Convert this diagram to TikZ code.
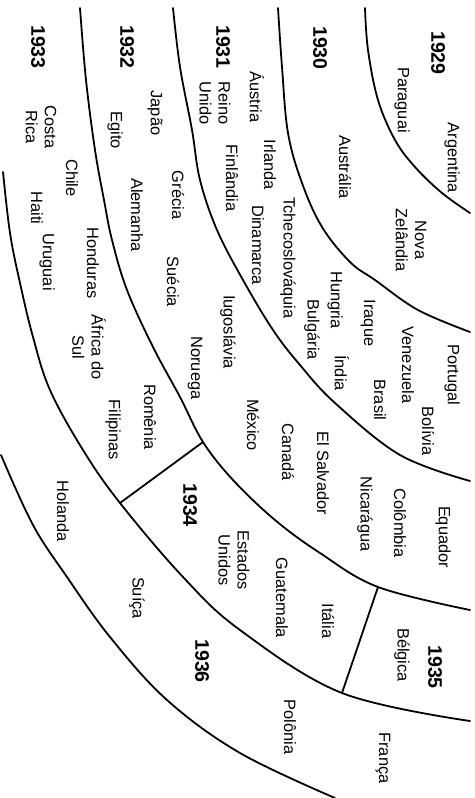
\documentclass[tikz,border=0pt]{standalone}
\usepackage{fontspec}
\setmainfont{Liberation Sans}
\tikzset{
  lbl/.style={rotate=-90, font=\fontsize{8.2}{9.6}\selectfont, align=center, inner sep=0pt},
  yr/.style={rotate=-90, font=\fontsize{9.8}{11}\selectfont\bfseries, inner sep=0pt},
  band/.style={line width=0.9pt, line cap=round}
}
\begin{document}
\begin{tikzpicture}[x=0.5pt,y=-0.5pt]
\useasboundingbox (0,0) rectangle (475,798);
% curves
\draw[band] plot[smooth, tension=0.6] coordinates {(365,8) (368,50) (378,100) (395,140) (415,167) (442,193) (470,213)};
\draw[band] plot[smooth, tension=0.6] coordinates {(278,8) (282,67) (288,133) (302,183) (322,227) (350,262) (375,280) (418,310) (470,332)};
\draw[band] plot[smooth, tension=0.6] coordinates {(173,8) (180,67) (192,130) (200,180) (217,230) (243,280) (273,330) (300,365) (335,403) (400,455) (470,481)};
\draw[band] plot[smooth, tension=0.6] coordinates {(80,8) (86,80) (95,150) (104,200) (112,240) (127,290) (153,347) (180,397) (203,442) (233,480) (275,520) (320,553) (378,587) (470,610)};
\draw[band] plot[smooth, tension=0.6] coordinates {(3,172) (10,233) (20,283) (33,337) (50,390) (83,450) (120,503) (183,577) (240,630) (342,693) (470,721)};
\draw[band] plot[smooth, tension=0.6] coordinates {(1,455) (33,525) (67,577) (110,637) (167,700) (240,753) (335,798)};
% dividers
\coordinate (d1a) at (203,442); \coordinate (d1b) at (120,503);
\coordinate (d2a) at (378,587); \coordinate (d2b) at (342,693);
\draw[band] (d1a) -- (d1b);
\draw[band] (d2a) -- (d2b);
% 1929
\node[yr] (y1929) at (438,53) {1929};
\node[lbl] (arg) at (452,158) {Argentina};
\node[lbl] (par) at (402,100) {Paraguai};
% 1930
\node[yr] (y1930) at (320,48) {1930};
\node[lbl] (aus) at (345,167) {Austrália};
\node[lbl] (nz) at (411,240) {Nova\\Zelândia};
% 1931
\node[yr] (y1931) at (223,47) {1931};
\node[lbl] (ru) at (215,103) {Reino\\Unido};
\node[lbl] (aut) at (257,97) {Áustria};
\node[lbl] (irl) at (270,165) {Irlanda};
\node[lbl] (fin) at (232,178) {Finlândia};
\node[lbl] (tch) at (288,258) {Tchecoslováquia};
\node[lbl] (din) at (258,245) {Dinamarca};
\node[lbl] (hun) at (335,300) {Hungria};
\node[lbl] (bul) at (312,330) {Bulgária};
\node[lbl] (ira) at (368,323) {Iraque};
\node[lbl] (ind) at (342,373) {Índia};
\node[lbl] (ven) at (408,365) {Venezuela};
\node[lbl] (bra) at (380,400) {Brasil};
\node[lbl] (por) at (452,375) {Portugal};
\node[lbl] (bol) at (428,431) {Bolívia};
% 1932
\node[yr] (y1932) at (127,47) {1932};
\node[lbl] (jap) at (155,113) {Japão};
\node[lbl] (egi) at (115,130) {Egito};
\node[lbl] (ale) at (137,215) {Alemanha};
\node[lbl] (gre) at (178,195) {Grécia};
\node[lbl] (sue) at (173,282) {Suécia};
\node[lbl] (iug) at (228,332) {Iugoslávia};
\node[lbl] (nor) at (195,368) {Noruega};
\node[lbl] (mex) at (253,425) {México};
\node[lbl] (can) at (288,452) {Canadá};
\node[lbl] (els) at (323,473) {El Salvador};
\node[lbl] (nic) at (365,514) {Nicarágua};
\node[lbl] (col) at (400,523) {Colômbia};
\node[lbl] (equ) at (443,537) {Equador};
% 1933
\node[yr] (y1933) at (38,47) {1933};
\node[lbl] (cr) at (41,127) {Costa\\Rica};
\node[lbl] (chi) at (72,178) {Chile};
\node[lbl] (hai) at (37,208) {Haiti};
\node[lbl] (hon) at (93,263) {Honduras};
\node[lbl] (uru) at (47,262) {Uruguai};
\node[lbl] (afs) at (89,347) {África do\\Sul};
\node[lbl] (rom) at (150,417) {Romênia};
\node[lbl] (fil) at (113,430) {Filipinas};
% 1934
\node[yr] (y1934) at (190,505) {1934};
\node[lbl] (eua) at (234,560) {Estados\\Unidos};
\node[lbl] (gua) at (282,598) {Guatemala};
\node[lbl] (ita) at (328,621) {Itália};
% 1935
\node[yr] (y1935) at (435,667) {1935};
\node[lbl] (bel) at (402,655) {Bélgica};
% 1936
\node[lbl] (hol) at (63,511) {Holanda};
\node[lbl] (sui) at (137,598) {Suíça};
\node[yr] (y1936) at (202,661) {1936};
\node[lbl] (pol) at (290,727) {Polônia};
\node[lbl] (fra) at (383,758) {França};
\end{tikzpicture}
\end{document}
